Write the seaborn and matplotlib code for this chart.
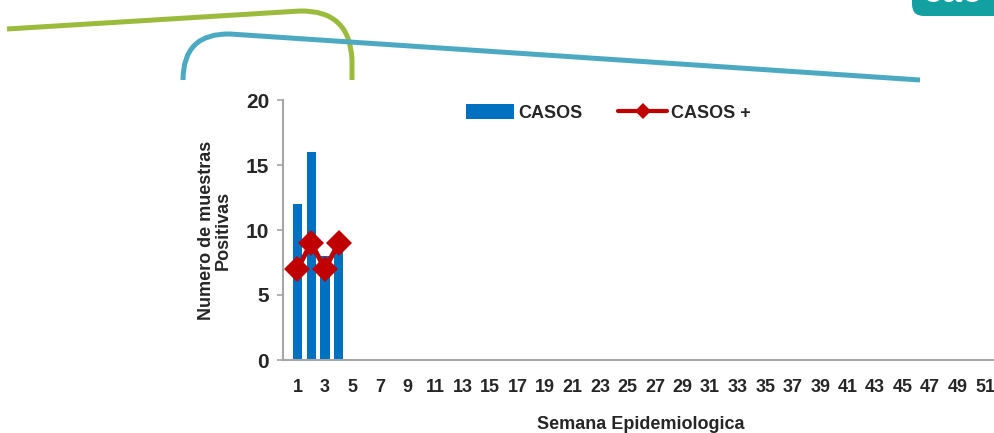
import numpy as np
import pandas as pd
import seaborn as sns
import matplotlib.pyplot as plt
from matplotlib.patches import FancyBboxPatch, PathPatch
from matplotlib.path import Path

# Weekly surveillance counts
weeks = [1, 2, 3, 4]
casos = [12, 16, 8, 9]
casos_pos = [7, 9, 7, 9]
tick_weeks = list(range(1, 52, 2))

sns.set_theme(style="white")
plt.rcParams['font.family'] = ['Liberation Sans Narrow', 'Liberation Sans', 'DejaVu Sans']
plt.rcParams['font.weight'] = 'bold'

W, H = 995, 433
fig = plt.figure(figsize=(W / 100, H / 100), dpi=100)

# Decorative header strokes drawn in pixel coordinates
deco = fig.add_axes([0, 0, 1, 1], zorder=0)
deco.set_xlim(0, W)
deco.set_ylim(H, 0)
deco.axis('off')

green = Path([(7, 29), (300, 11), (350, 10), (352, 60), (352, 80)],
             [Path.MOVETO, Path.LINETO, Path.CURVE3, Path.CURVE3, Path.LINETO])
deco.add_patch(PathPatch(green, fill=False, color='#9bbb3c', lw=3.6, capstyle='butt'))
teal = Path([(183, 80), (183, 33), (230, 34), (920, 80)],
            [Path.MOVETO, Path.CURVE3, Path.CURVE3, Path.LINETO])
deco.add_patch(PathPatch(teal, fill=False, color='#4ba9c2', lw=3.6, capstyle='butt'))
deco.add_patch(FancyBboxPatch((912, -30), 120, 46, boxstyle='round,pad=0,rounding_size=12',
                              fc='#12a0a0', ec='none'))
deco.text(923, 10, 'cac', color='white', fontsize=26, fontweight='bold',
          family=['Liberation Sans', 'DejaVu Sans'], va='bottom', ha='left', clip_on=True)

# Main chart
left, right, bottom, top = 283, 999, 360, 100
ax = fig.add_axes([left / W, 1 - bottom / H, (right - left) / W, (bottom - top) / H], zorder=1)
ax.patch.set_alpha(0)

df = pd.DataFrame({'week': weeks, 'casos': casos, 'casos_pos': casos_pos})
sns.barplot(data=df, x='week', y='casos', native_scale=True, width=0.68,
            color='#0070c0', saturation=1, linewidth=0, ax=ax, label='CASOS')
sns.lineplot(data=df, x='week', y='casos_pos', color='#c00000', lw=3.5,
             marker='D', markersize=13, markeredgewidth=0, ax=ax, label='CASOS +')

ax.set_xlim(-0.05, 52)
ax.set_ylim(0, 20)
ax.set_xticks(tick_weeks)
ax.set_xticklabels([str(w) for w in tick_weeks], fontsize=13, fontweight='bold')
ax.set_yticks([0, 5, 10, 15, 20])
ax.set_yticklabels(['0', '5', '10', '15', '20'], fontsize=15, fontweight='bold')
ax.tick_params(axis='y', which='both', left=True, length=4, width=1.2, color='#a6a6a6', pad=6)
ax.tick_params(axis='x', bottom=False, pad=8)

for s in ['top', 'right']:
    ax.spines[s].set_visible(False)
for s in ['left', 'bottom']:
    ax.spines[s].set_color('#a6a6a6')
    ax.spines[s].set_linewidth(1.5)

ax.set_xlabel('Semana Epidemiologica', fontsize=13, fontweight='bold', labelpad=14)
ax.set_ylabel('Numero de muestras\nPositivas', fontsize=13, fontweight='bold',
              labelpad=10, linespacing=1.0)

# Legend: bars first, then the line with a smaller marker
handles, labels = ax.get_legend_handles_labels()
order = [labels.index('CASOS'), labels.index('CASOS +')]
leg = ax.legend([handles[i] for i in order], [labels[i] for i in order],
                loc='center', bbox_to_anchor=(608 / W, 1 - 113 / H),
                bbox_transform=fig.transFigure, ncol=2, frameon=False,
                fontsize=13, handlelength=2.7, handleheight=0.9, columnspacing=2.0,
                handletextpad=0.2)
for t in leg.get_texts():
    t.set_fontweight('bold')
line_handle = leg.legend_handles[1]
line_handle.set_markersize(8)
line_handle.set_linewidth(3)

fig.savefig('out.png', dpi=100)
